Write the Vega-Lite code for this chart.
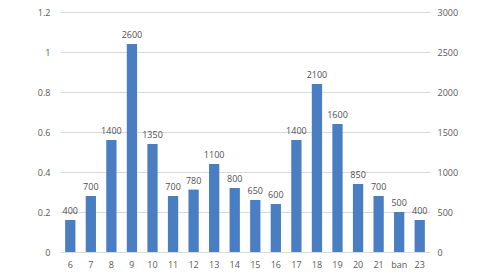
{
  "$schema": "https://vega.github.io/schema/vega-lite/v6.json",
  "width": 370,
  "height": 240,
  "autosize": {"type": "none"},
  "padding": {"left": 60, "top": 12, "right": 67, "bottom": 26},
  "background": "white",
  "config": {
    "view": {"stroke": null},
    "font": "Open Sans",
    "axis": {"labelColor": "#595959", "labelFontSize": 9, "domain": false, "ticks": false, "title": null}
  },
  "data": {
    "values": [
      {"hour": "6", "value": 400},
      {"hour": "7", "value": 700},
      {"hour": "8", "value": 1400},
      {"hour": "9", "value": 2600},
      {"hour": "10", "value": 1350},
      {"hour": "11", "value": 700},
      {"hour": "12", "value": 780},
      {"hour": "13", "value": 1100},
      {"hour": "14", "value": 800},
      {"hour": "15", "value": 650},
      {"hour": "16", "value": 600},
      {"hour": "17", "value": 1400},
      {"hour": "18", "value": 2100},
      {"hour": "19", "value": 1600},
      {"hour": "20", "value": 850},
      {"hour": "21", "value": 700},
      {"hour": "ban", "value": 500},
      {"hour": "23", "value": 400}
    ]
  },
  "encoding": {
    "x": {
      "field": "hour",
      "type": "nominal",
      "sort": null,
      "scale": {"paddingInner": 0.5, "paddingOuter": 0.25},
      "axis": {"labelAngle": 0, "labelPadding": 8, "grid": false}
    }
  },
  "layer": [
    {
      "mark": {"type": "bar", "color": "#4a7ec2"},
      "encoding": {
        "y": {
          "field": "value",
          "type": "quantitative",
          "scale": {"domain": [0, 3000]},
          "axis": {
            "orient": "left",
            "values": [0, 500, 1000, 1500, 2000, 2500, 3000],
            "labelExpr": "format(datum.value / 2500, '~g')",
            "labelPadding": 10,
            "grid": true,
            "gridColor": "#d9d9d9"
          }
        }
      }
    },
    {
      "mark": {"type": "text", "baseline": "bottom", "dy": -4, "fontSize": 9, "color": "#505050"},
      "encoding": {
        "y": {
          "field": "value",
          "type": "quantitative",
          "scale": {"domain": [0, 3000]},
          "axis": {
            "orient": "right",
            "values": [0, 500, 1000, 1500, 2000, 2500, 3000],
            "format": "d",
            "labelPadding": 7,
            "grid": false
          }
        },
        "text": {"field": "value", "type": "quantitative"}
      }
    }
  ],
  "resolve": {"scale": {"y": "independent"}}
}
